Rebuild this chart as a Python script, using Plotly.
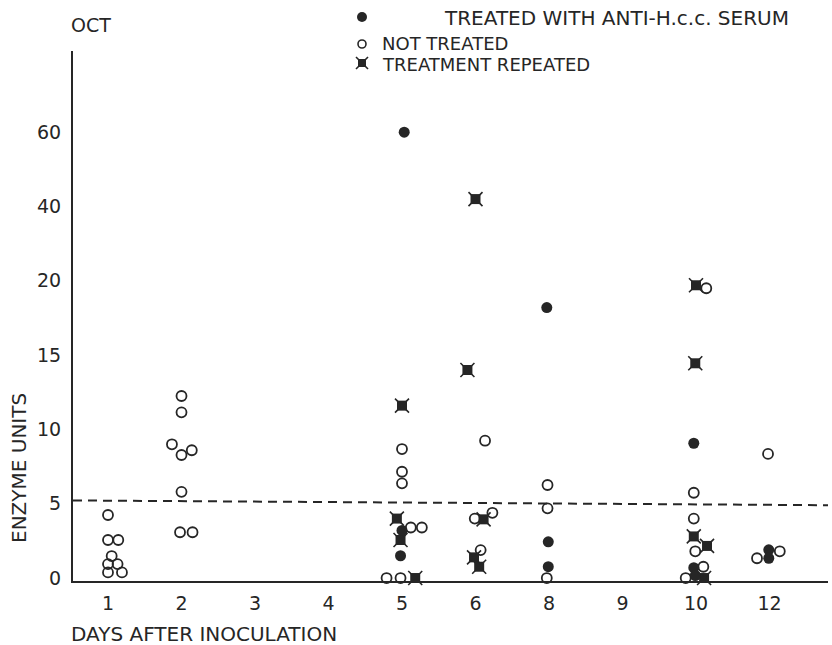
import numpy as np
import plotly.graph_objects as go

# ---------------- data ----------------
day_labels = ["1", "2", "3", "4", "5", "6", "8", "9", "10", "12"]
y_tick_values = [0, 5, 10, 15, 20, 40, 60]
y_tick_text = ["0", "5", "10", "15", "20", "40", "60"]

# treated with anti-H.c.c. serum (filled circles)
treated_day = ["5", "5", "5", "8", "8", "8", "10", "10", "10", "12", "12"]
treated_val = [61, 3.2, 1.5, 18.2, 2.44, 0.76, 9.07, 0.7, 0.17, 1.9, 1.33]
treated_jit = [0.03, 0.0, -0.02, -0.03, -0.01, -0.01, -0.03, -0.03, -0.01, -0.01, -0.01]

# not treated (open circles)
not_treated_day = (["1"] * 8 + ["2"] * 8 + ["5"] * 7 + ["6"] * 4 + ["8"] * 3
                   + ["10"] * 6 + ["12"] * 3)
not_treated_val = [4.24, 2.56, 2.56, 1.48, 0.94, 0.94, 0.38, 0.38,
                   12.25, 11.15, 9.0, 8.6, 8.28, 5.8, 3.08, 3.08,
                   8.68, 7.15, 6.37, 3.4, 3.4, 0, 0,
                   9.24, 4.0, 4.39, 1.88,
                   6.26, 4.69, 0,
                   19.5, 5.74, 4.0, 1.8, 0.76, 0,
                   8.35, 1.33, 1.8]
not_treated_jit = [0, 0, 0.14, 0.05, 0, 0.13, 0, 0.19,
                   0, 0, -0.13, 0.14, 0, 0, -0.02, 0.15,
                   0, 0, 0, 0.12, 0.27, -0.21, -0.02,
                   0.13, -0.01, 0.23, 0.07,
                   -0.02, -0.02, -0.03,
                   0.14, -0.03, -0.03, -0.01, 0.10, -0.14,
                   -0.02, -0.17, 0.14]

# treatment repeated (star markers)
repeated_day = ["5", "5", "5", "5", "6", "6", "6", "6", "6", "10", "10", "10", "10", "10"]
repeated_val = [11.6, 4.0, 2.56, 0, 42, 14, 3.95, 1.39, 0.76, 19.7, 14.45, 2.8, 2.16, 0]
repeated_jit = [0, -0.07, -0.02, 0.18, 0, -0.11, 0.11, -0.02, 0.05, 0, -0.01, -0.03, 0.15, 0.11]

threshold = 5.1

# ---------------- helpers ----------------
tick_pos = list(range(len(y_tick_values)))


def ypos(vals):
    return np.interp(vals, y_tick_values, tick_pos)


def xpos(days, jit):
    return [day_labels.index(d) + j for d, j in zip(days, jit)]


INK = "#262626"
FONT = "DejaVu Sans, sans-serif"

W, H = 832, 645
ML, MR, MT, MB = 73, 4, 51, 64
PW, PH = W - ML - MR, H - MT - MB


def pxx(p):
    return (p - ML) / PW


def pxy(p):
    return (H - MB - p) / PH


fig = go.Figure()

fig.add_trace(go.Scatter(
    x=xpos(not_treated_day, not_treated_jit), y=ypos(not_treated_val),
    mode="markers", cliponaxis=False, name="NOT TREATED",
    marker=dict(symbol="circle-open", size=10, color=INK, line=dict(width=1.8, color=INK)),
))
rx, ry = xpos(repeated_day, repeated_jit), ypos(repeated_val)
fig.add_trace(go.Scatter(
    x=rx, y=ry, mode="markers", cliponaxis=False, name="TREATMENT REPEATED",
    marker=dict(symbol="square", size=10, color=INK, line=dict(width=0)),
))
fig.add_trace(go.Scatter(
    x=rx, y=ry, mode="markers", cliponaxis=False, showlegend=False, hoverinfo="skip",
    marker=dict(symbol="x-thin", size=14, color=INK, line=dict(width=1.6, color=INK)),
))
fig.add_trace(go.Scatter(
    x=xpos(treated_day, treated_jit), y=ypos(treated_val),
    mode="markers", cliponaxis=False, name="TREATED WITH ANTI-H.c.c. SERUM",
    marker=dict(symbol="circle", size=11, color=INK, line=dict(width=0)),
))

x_lo = -35 / 73.5
x_hi = (828 - 108) / 73.5

# dashed threshold line (slightly tilted like the scan)
fig.add_shape(type="line", xref="x", yref="y",
              x0=x_lo, x1=x_hi, y0=float(ypos(threshold + 0.12)), y1=float(ypos(threshold - 0.2)),
              line=dict(color=INK, width=2, dash="9px,6px"))

# legend keys
fig.add_shape(type="circle", xref="paper", yref="paper", xsizemode="pixel", ysizemode="pixel",
              xanchor=pxx(362), yanchor=pxy(17), x0=-5, x1=5, y0=-5, y1=5,
              fillcolor=INK, line=dict(width=0))
fig.add_shape(type="circle", xref="paper", yref="paper", xsizemode="pixel", ysizemode="pixel",
              xanchor=pxx(362), yanchor=pxy(44), x0=-4, x1=4, y0=-4, y1=4,
              fillcolor="white", line=dict(width=1.6, color=INK))
fig.add_shape(type="rect", xref="paper", yref="paper", xsizemode="pixel", ysizemode="pixel",
              xanchor=pxx(362), yanchor=pxy(63), x0=-4, x1=4, y0=-4, y1=4,
              fillcolor=INK, line=dict(width=0))
for sx in (-1, 1):
    fig.add_shape(type="line", xref="paper", yref="paper", xsizemode="pixel", ysizemode="pixel",
                  xanchor=pxx(362), yanchor=pxy(63), x0=-6 * sx, x1=6 * sx, y0=-6, y1=6,
                  line=dict(width=1.6, color=INK))

annotations = [
    dict(text="OCT", x=pxx(91), y=pxy(25), xanchor="center", yanchor="middle", font_size=19),
    dict(text="TREATED WITH ANTI-H.c.c. SERUM", x=pxx(442), y=pxy(18), xanchor="left", yanchor="middle"),
    dict(text="NOT TREATED", x=pxx(380), y=pxy(43), xanchor="left", yanchor="middle", font_size=18),
    dict(text="TREATMENT REPEATED", x=pxx(380), y=pxy(64), xanchor="left", yanchor="middle", font_size=18),
    dict(text="ENZYME UNITS", x=pxx(19), y=pxy(468), xanchor="center", yanchor="middle", textangle=-90),
    dict(text="DAYS AFTER INOCULATION", x=pxx(69), y=pxy(634), xanchor="left", yanchor="middle"),
]
for a in annotations:
    fs = a.pop("font_size", 20)
    a.update(xref="paper", yref="paper", showarrow=False, font=dict(family=FONT, size=fs, color=INK))

fig.update_layout(
    width=W, height=H,
    margin=dict(l=ML, r=MR, t=MT, b=MB, pad=0),
    paper_bgcolor="white", plot_bgcolor="white",
    showlegend=False,
    annotations=annotations,
    font=dict(family=FONT, color=INK),
    xaxis=dict(range=[x_lo, x_hi], tickvals=list(range(len(day_labels))), ticktext=day_labels,
               showgrid=False, zeroline=False, showline=True, linecolor=INK, linewidth=2,
               ticks="", ticklabelstandoff=4, tickfont=dict(family=FONT, size=19, color=INK)),
    yaxis=dict(range=[-0.04, (578 - 51) / 74.3], tickvals=tick_pos, ticktext=y_tick_text,
               showgrid=False, zeroline=False, showline=True, linecolor=INK, linewidth=2,
               ticks="", ticklabelstandoff=6, tickfont=dict(family=FONT, size=19, color=INK)),
)

fig.write_html("out.html")
